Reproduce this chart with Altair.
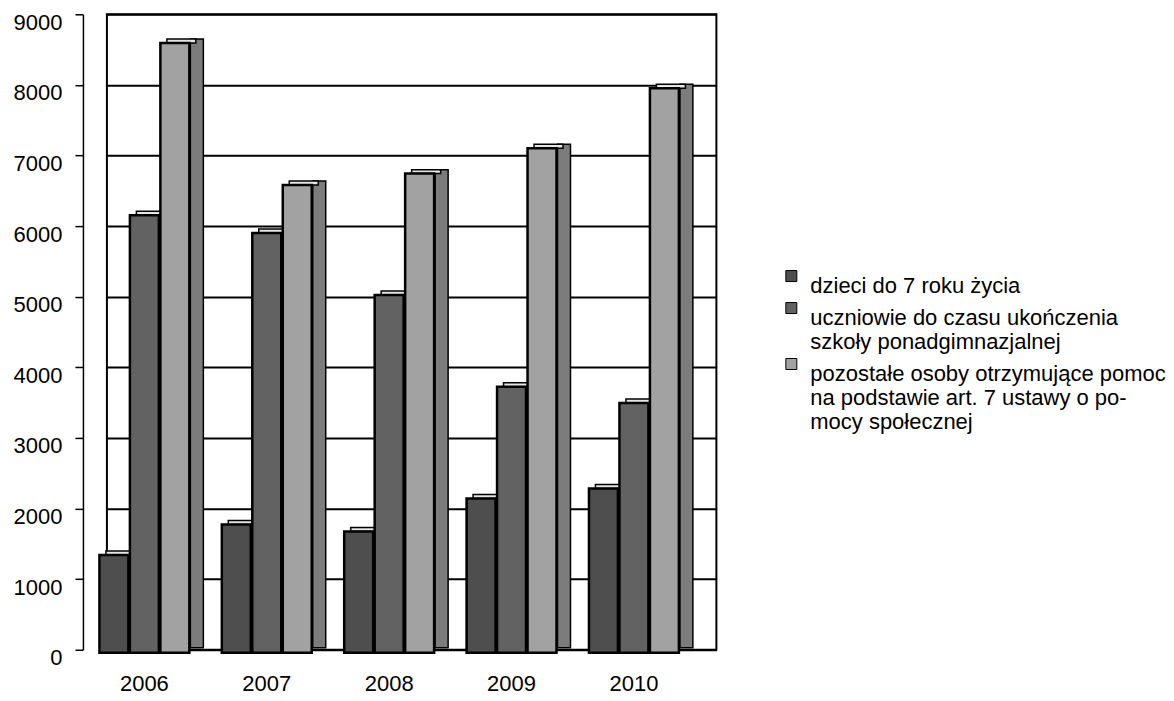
import altair as alt
import pandas as pd

years = ["2006", "2007", "2008", "2009", "2010"]
series = [
    "dzieci do 7 roku życia",
    "uczniowie do czasu ukończenia|szkoły ponadgimnazjalnej",
    "pozostałe osoby otrzymujące pomoc|na podstawie art. 7 ustawy o po-|mocy społecznej",
]
s1 = [1400, 1830, 1730, 2200, 2340]
s2 = [6210, 5960, 5080, 3780, 3550]
s3 = [8650, 6640, 6800, 7160, 8010]
y_ticks = [0, 1000, 2000, 3000, 4000, 5000, 6000, 7000, 8000, 9000]

front_colors = ["#4e4e4e", "#626262", "#a2a2a2"]
top_color = "#e6e6e6"
side_color = "#7c7c7c"
offsets = [-30.5, 0, 30.5]
FONT = "Liberation Sans"

rows = []
for name, vals in zip(series, [s1, s2, s3]):
    for yr, v in zip(years, vals):
        rows.append({"year": yr, "series": name, "value": v})
df = pd.DataFrame(rows)

xscale = alt.Scale(domain=years, paddingInner=0.51, paddingOuter=0.245, align=0.125)
yscale = alt.Scale(domain=[0, 9000], nice=False)

xaxis = alt.Axis(title=None, labelAngle=0, ticks=False, domain=False, labelPadding=24,
                 labelFontSize=22, labelFont=FONT, labelColor="black", grid=False)
yaxis = alt.Axis(title=None, values=y_ticks, format="d", offset=24, tickSize=8, labelPadding=13,
                 labelOffset=8, labelFontSize=22, labelFont=FONT, labelColor="black",
                 domainColor="black", domainWidth=1.5, tickColor="black", tickWidth=1.5,
                 grid=True, gridColor="black", gridWidth=2)

X = alt.X("year:N", scale=xscale, axis=xaxis)
Y = alt.Y("value:Q", scale=yscale, axis=yaxis, stack=None)

base = alt.Chart(df)

layers = []
# side face of the last bar in each group
layers.append(
    base.transform_filter(alt.datum.series == series[2])
    .mark_bar(width=13, xOffset=52.5, fill=side_color, stroke="black", strokeWidth=1.5, y2Offset=-2)
    .encode(x=X, y=Y, y2=alt.Y2(datum=0))
)
# top faces
for i in range(3):
    layers.append(
        base.transform_filter(alt.datum.series == series[i])
        .mark_bar(width=29, xOffset=offsets[i] + 6.5, y2Offset=4, fill=top_color, stroke="black", strokeWidth=1.5)
        .encode(x=X, y=Y, y2=alt.Y2("value:Q"))
    )
# front faces
legend = alt.Legend(
    title=None, orient="none", legendX=674, legendY=251,
    labelExpr="split(datum.label, '|')", labelFontSize=22, labelFont=FONT,
    labelColor="black", labelLimit=500, labelBaseline="top",
    symbolType="square", symbolSize=121, symbolStrokeColor="black",
    symbolStrokeWidth=1, labelOffset=8, rowPadding=0,
)
for i in range(3):
    layers.append(
        base.transform_filter(alt.datum.series == series[i])
        .mark_bar(width=29, xOffset=offsets[i], yOffset=4, y2Offset=3, stroke="black", strokeWidth=2.5)
        .encode(
            x=X, y=Y, y2=alt.Y2(datum=0),
            color=alt.Color("series:N", scale=alt.Scale(domain=series, range=front_colors), legend=legend),
        )
    )

chart = (
    alt.layer(*layers)
    .properties(
        width=610, height=636,
        padding={"left": 99, "top": 6, "right": 450, "bottom": 50},
        autosize=alt.AutoSizeParams(type="none"),
        background="white",
    )
    .configure_view(stroke="black", strokeWidth=2)
)

chart.save("out.html", embed_options={"renderer": "svg", "actions": False})
